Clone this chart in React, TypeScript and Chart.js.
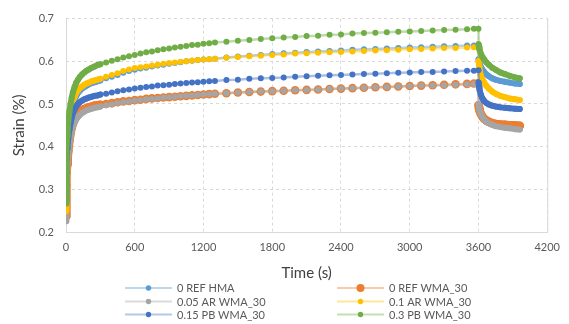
import React, { useEffect, useRef } from "react";
import { Chart, registerables } from "chart.js";

Chart.register(...registerables);

// Time (s) at which each strain value was recorded
const TIME = [
  0, 2, 5, 10, 15, 20, 30, 40, 50, 60, 75, 90, 105, 120, 140, 160, 180, 200, 225, 250, 275, 300,
  350, 400, 450, 500, 550, 600, 650, 700, 750, 800, 850, 900, 950, 1000, 1050, 1100, 1150, 1200, 1250, 1300,
  1400, 1500, 1600, 1700, 1800, 1900, 2000, 2100, 2200, 2300, 2400, 2500, 2600, 2700, 2800, 2900, 3000, 3100, 3200, 3300, 3400, 3500, 3560, 3600,
  3601, 3605, 3610, 3620, 3635, 3650, 3670, 3690, 3720, 3750, 3790, 3830, 3870, 3920, 3960,
];

// Strain (%) series
const REF_HMA = [
  0.240, 0.320, 0.360, 0.390, 0.410, 0.425, 0.452, 0.471, 0.486, 0.498, 0.510, 0.519, 0.526, 0.531, 0.536, 0.540, 0.543, 0.546, 0.549, 0.551, 0.553, 0.555,
  0.560, 0.564, 0.568, 0.573, 0.577, 0.580, 0.583, 0.585, 0.588, 0.590, 0.592, 0.594, 0.596, 0.598, 0.600, 0.601, 0.603, 0.604, 0.605, 0.606,
  0.609, 0.611, 0.613, 0.615, 0.617, 0.619, 0.620, 0.622, 0.623, 0.624, 0.625, 0.627, 0.628, 0.629, 0.630, 0.631, 0.632, 0.633, 0.634, 0.635, 0.636, 0.637, 0.637, 0.638,
  0.605, 0.598, 0.593, 0.587, 0.580, 0.575, 0.569, 0.565, 0.560, 0.557, 0.554, 0.552, 0.550, 0.548, 0.547,
];
const REF_WMA30 = [
  0.237, 0.310, 0.338, 0.358, 0.375, 0.390, 0.415, 0.432, 0.445, 0.455, 0.465, 0.472, 0.477, 0.481, 0.485, 0.488, 0.490, 0.492, 0.494, 0.496, 0.497, 0.498,
  0.500, 0.502, 0.504, 0.506, 0.507, 0.509, 0.510, 0.512, 0.513, 0.514, 0.515, 0.516, 0.517, 0.518, 0.519, 0.520, 0.521, 0.522, 0.523, 0.524,
  0.525, 0.527, 0.528, 0.529, 0.530, 0.531, 0.532, 0.533, 0.534, 0.535, 0.536, 0.537, 0.538, 0.539, 0.540, 0.541, 0.542, 0.543, 0.544, 0.545, 0.546, 0.547, 0.548, 0.549,
  0.497, 0.490, 0.484, 0.477, 0.470, 0.465, 0.461, 0.458, 0.455, 0.453, 0.452, 0.451, 0.450, 0.450, 0.449,
];
const AR005_WMA30 = [
  0.225, 0.295, 0.325, 0.350, 0.365, 0.378, 0.405, 0.422, 0.436, 0.446, 0.456, 0.464, 0.470, 0.474, 0.479, 0.482, 0.485, 0.487, 0.489, 0.491, 0.492, 0.494,
  0.497, 0.499, 0.502, 0.504, 0.506, 0.508, 0.509, 0.511, 0.512, 0.513, 0.515, 0.516, 0.517, 0.518, 0.519, 0.520, 0.521, 0.522, 0.523, 0.524,
  0.525, 0.527, 0.528, 0.529, 0.530, 0.531, 0.532, 0.533, 0.534, 0.535, 0.536, 0.537, 0.538, 0.539, 0.540, 0.541, 0.542, 0.543, 0.543, 0.544, 0.545, 0.546, 0.547, 0.547,
  0.500, 0.492, 0.485, 0.477, 0.469, 0.463, 0.458, 0.455, 0.451, 0.448, 0.446, 0.444, 0.443, 0.441, 0.440,
];
const AR01_WMA30 = [
  0.249, 0.330, 0.370, 0.400, 0.420, 0.435, 0.462, 0.480, 0.495, 0.506, 0.517, 0.526, 0.532, 0.537, 0.541, 0.545, 0.548, 0.550, 0.553, 0.555, 0.557, 0.559,
  0.564, 0.568, 0.572, 0.577, 0.581, 0.584, 0.586, 0.588, 0.590, 0.592, 0.594, 0.596, 0.597, 0.599, 0.600, 0.602, 0.603, 0.604, 0.605, 0.606,
  0.608, 0.610, 0.612, 0.613, 0.615, 0.616, 0.618, 0.619, 0.620, 0.621, 0.622, 0.623, 0.624, 0.625, 0.626, 0.627, 0.628, 0.629, 0.630, 0.631, 0.631, 0.632, 0.633, 0.633,
  0.600, 0.588, 0.578, 0.567, 0.557, 0.550, 0.542, 0.536, 0.529, 0.524, 0.519, 0.516, 0.513, 0.511, 0.509,
];
const PB015_WMA30 = [
  0.272, 0.340, 0.370, 0.395, 0.410, 0.420, 0.440, 0.456, 0.468, 0.478, 0.488, 0.495, 0.500, 0.504, 0.508, 0.511, 0.513, 0.515, 0.517, 0.519, 0.520, 0.522,
  0.524, 0.527, 0.530, 0.532, 0.534, 0.536, 0.538, 0.540, 0.541, 0.543, 0.544, 0.545, 0.547, 0.548, 0.549, 0.550, 0.551, 0.552, 0.553, 0.554,
  0.556, 0.557, 0.559, 0.560, 0.561, 0.562, 0.564, 0.565, 0.566, 0.567, 0.568, 0.569, 0.570, 0.571, 0.572, 0.573, 0.574, 0.575, 0.575, 0.576, 0.577, 0.578, 0.578, 0.579,
  0.550, 0.540, 0.532, 0.522, 0.513, 0.507, 0.502, 0.499, 0.496, 0.494, 0.492, 0.491, 0.490, 0.489, 0.488,
];
const PB03_WMA30 = [
  0.267, 0.350, 0.390, 0.425, 0.445, 0.460, 0.483, 0.500, 0.515, 0.527, 0.540, 0.550, 0.557, 0.563, 0.569, 0.574, 0.578, 0.581, 0.585, 0.588, 0.591, 0.593,
  0.597, 0.601, 0.605, 0.609, 0.612, 0.615, 0.618, 0.621, 0.623, 0.626, 0.628, 0.630, 0.632, 0.634, 0.636, 0.638, 0.639, 0.641, 0.642, 0.644,
  0.646, 0.648, 0.650, 0.652, 0.654, 0.656, 0.657, 0.659, 0.660, 0.662, 0.663, 0.665, 0.666, 0.667, 0.668, 0.669, 0.670, 0.671, 0.672, 0.673, 0.674, 0.675, 0.676, 0.676,
  0.640, 0.632, 0.626, 0.618, 0.610, 0.604, 0.597, 0.592, 0.585, 0.580, 0.574, 0.570, 0.566, 0.562, 0.560,
];

const SERIES = [REF_HMA, REF_WMA30, AR005_WMA30, AR01_WMA30, PB015_WMA30, PB03_WMA30];
const LABELS = ["0 REF HMA", "0 REF WMA_30", "0.05 AR WMA_30", "0.1 AR WMA_30", "0.15 PB WMA_30", "0.3 PB WMA_30"];
const COLORS = ["#5B9BD5", "#ED7D31", "#A5A5A5", "#FFC000", "#4472C4", "#70AD47"];
const RADII = [3, 4.3, 3, 3, 3, 3];

const X_MIN = 0;
const X_MAX = 4200;
const X_STEP = 600;
const Y_MIN = 0.2;
const Y_MAX = 0.7;
const Y_STEP = 0.1;

const FONT = "Lato, 'Open Sans', sans-serif";

function pale(hex: string, a = 0.45) {
  const r = parseInt(hex.slice(1, 3), 16);
  const g = parseInt(hex.slice(3, 5), 16);
  const b = parseInt(hex.slice(5, 7), 16);
  return `rgba(${r},${g},${b},${a})`;
}

const borderPlugin = {
  id: "plotBorder",
  beforeDatasetsDraw(chart: any) {
    const { ctx, chartArea } = chart;
    const { left, right, top, bottom } = chartArea;
    ctx.save();
    ctx.strokeStyle = "#d9d9d9";
    ctx.lineWidth = 1;
    ctx.setLineDash([]);
    ctx.beginPath();
    ctx.moveTo(left + 0.5, top);
    ctx.lineTo(left + 0.5, bottom + 0.5);
    ctx.lineTo(right + 0.5, bottom + 0.5);
    ctx.lineTo(right + 0.5, top);
    ctx.stroke();
    ctx.restore();
  },
};

const legendPlugin = {
  id: "twoColLegend",
  afterDraw(chart: any) {
    const ctx = chart.ctx;
    const colX = [125, 337];
    const rowY = [288, 301.5, 314.5];
    const lineLen = 47;
    LABELS.forEach((label, i) => {
      const x = colX[i % 2];
      const y = rowY[Math.floor(i / 2)];
      ctx.save();
      ctx.strokeStyle = pale(COLORS[i], 0.4);
      ctx.lineWidth = 2;
      ctx.beginPath();
      ctx.moveTo(x, y);
      ctx.lineTo(x + lineLen, y);
      ctx.stroke();
      ctx.fillStyle = COLORS[i];
      ctx.beginPath();
      ctx.arc(x + lineLen / 2, y, RADII[i] - 0.3, 0, Math.PI * 2);
      ctx.fill();
      ctx.fillStyle = "#595959";
      ctx.font = `11px ${FONT}`;
      ctx.textBaseline = "middle";
      ctx.textAlign = "left";
      ctx.fillText(label, x + lineLen + 5, y + 0.5);
      ctx.restore();
    });
  },
};

export default function App() {
  const canvasRef = useRef<HTMLCanvasElement | null>(null);

  useEffect(() => {
    document.body.style.margin = "0";
    const canvas = canvasRef.current;
    if (!canvas) return;

    const datasets = SERIES.map((vals, i) => {
      const dense = (c: any) => c.p1.parsed.x <= 300 || c.p0.parsed.x > 3600;
      return {
        label: LABELS[i],
        data: vals.map((v, j) => ({ x: TIME[j], y: v })),
        borderColor: pale(COLORS[i]),
        borderWidth: 2.5,
        borderJoinStyle: "round",
        borderCapStyle: "round",
        backgroundColor: COLORS[i],
        pointBackgroundColor: COLORS[i],
        pointBorderColor: COLORS[i],
        pointBorderWidth: 0,
        pointRadius: RADII[i],
        pointHoverRadius: RADII[i],
        tension: 0,
        order: SERIES.length - i,
        segment: {
          borderWidth: (c: any) => (dense(c) ? RADII[i] * 2 : 2.5),
          borderColor: (c: any) => (dense(c) ? COLORS[i] : pale(COLORS[i])),
          borderJoinStyle: "round",
          borderCapStyle: "round",
        },
      };
    });

    const chart = new Chart(canvas, {
      type: "line",
      data: { datasets },
      options: {
        responsive: false,
        devicePixelRatio: 1,
        animation: false,
        layout: { padding: { left: 0, right: 13, top: 16, bottom: 40 } },
        plugins: {
          legend: { display: false },
          tooltip: { enabled: false },
        },
        scales: {
          x: {
            type: "linear",
            min: X_MIN,
            max: X_MAX,
            ticks: {
              stepSize: X_STEP,
              color: "#595959",
              font: { family: FONT, size: 11 },
              padding: 9,
              maxRotation: 0,
              callback: (v: any) => String(Math.round(Number(v))),
            },
            grid: { color: "#d9d9d9", drawTicks: false, lineWidth: 1 },
            border: { display: false, dash: [3, 3] },
            title: {
              display: true,
              text: "Time (s)",
              color: "#404040",
              font: { family: FONT, size: 15 },
              padding: { top: 0, bottom: 2 },
            },
            afterFit: (s: any) => {
              s.height = 52;
            },
          },
          y: {
            type: "linear",
            min: Y_MIN,
            max: Y_MAX,
            ticks: {
              stepSize: Y_STEP,
              color: "#595959",
              font: { family: FONT, size: 11 },
              padding: 12,
              callback: (v: any) => Number(v).toFixed(1),
            },
            grid: { color: "#d9d9d9", drawTicks: false, lineWidth: 1 },
            border: { display: false, dash: [3, 3] },
            title: {
              display: true,
              text: "Strain (%)",
              color: "#404040",
              font: { family: FONT, size: 15 },
              padding: { top: 10, bottom: 0 },
            },
            afterFit: (s: any) => {
              s.width = 66;
            },
          },
        },
      },
      plugins: [borderPlugin, legendPlugin],
    } as any);

    return () => chart.destroy();
  }, []);

  return (
    <div style={{ width: 569, height: 324, background: "#ffffff" }}>
      <canvas ref={canvasRef} width={569} height={324} style={{ display: "block" }} />
    </div>
  );
}
